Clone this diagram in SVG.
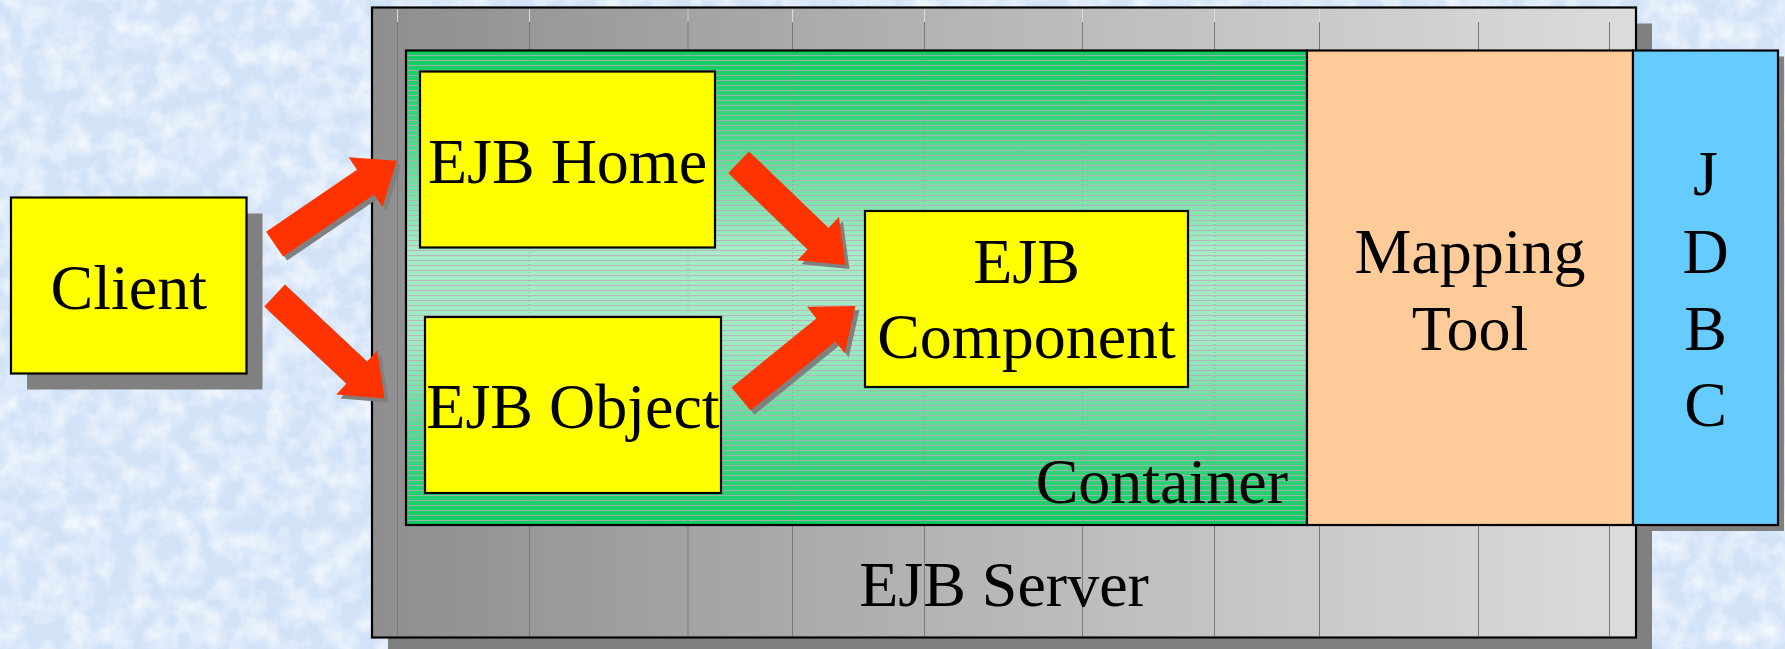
<svg xmlns="http://www.w3.org/2000/svg" width="1785" height="649" viewBox="0 0 1785 649">
  <style>
    .lbl { font-family: 'Liberation Serif', 'Times New Roman', serif; font-size: 64px; fill: #000; text-anchor: middle; }
    .box { stroke: #000; stroke-width: 2.2; }
    .yel { fill: #ffff00; }
    .shadow { fill: #808080; }
    .arrow { fill: #ff3300; }
    .grid { stroke: #7a7a7a; stroke-width: 1; }
    .gridtop { stroke: #f4f4f4; stroke-width: 1; opacity: 0.8; }
    .dots { stroke: #8a8a8a; stroke-width: 1; stroke-dasharray: 1 3; opacity: 0.6; }
  </style>
  <defs>
    <filter id="tex" x="0" y="0" width="100%" height="100%">
      <feTurbulence type="fractalNoise" baseFrequency="0.045" numOctaves="4" seed="7"/>
      <feColorMatrix type="matrix" values="0 0 0 0 1  0 0 0 0 1  0 0 0 0 1  0 0 0 1.4 -0.5"/>
    </filter>
    <linearGradient id="serverGrad" x1="0" y1="0" x2="1" y2="0">
      <stop offset="0" stop-color="#8e8e8e"/>
      <stop offset="0.5" stop-color="#b8b8b8"/>
      <stop offset="1" stop-color="#dcdcdc"/>
    </linearGradient>
    <linearGradient id="contGrad" x1="0" y1="0" x2="0" y2="1">
      <stop offset="0" stop-color="#10cc60"/>
      <stop offset="0.12" stop-color="#30d276"/>
      <stop offset="0.42" stop-color="#a6ecc8"/>
      <stop offset="0.62" stop-color="#a0eac4"/>
      <stop offset="0.88" stop-color="#34d27a"/>
      <stop offset="1" stop-color="#10cc60"/>
    </linearGradient>
    <pattern id="stripes" width="10" height="5" patternUnits="userSpaceOnUse">
      <rect x="0" y="0" width="10" height="1" fill="#bba8bb" opacity="0.8"/>
    </pattern>
  </defs>

  <!-- background -->
  <rect x="0" y="0" width="1785" height="649" fill="#d2e3f8"/>
  <rect x="0" y="0" width="1785" height="649" filter="url(#tex)"/>

  <!-- EJB Server -->
  <g id="ejb-server">
    <rect class="shadow" x="388" y="23.5" width="1264" height="630"/>
    <rect x="372" y="7.5" width="1264" height="630" fill="url(#serverGrad)" class="box" stroke-width="2.5"/>
    <g>
      <line class="grid" x1="397.5" y1="9" x2="397.5" y2="636"/>
      <line class="grid" x1="529.5" y1="9" x2="529.5" y2="636"/>
      <line class="grid" x1="688" y1="9" x2="688" y2="636"/>
      <line class="grid" x1="792.5" y1="9" x2="792.5" y2="636"/>
      <line class="grid" x1="924.5" y1="9" x2="924.5" y2="636"/>
      <line class="grid" x1="1082.5" y1="9" x2="1082.5" y2="636"/>
      <line class="grid" x1="1214.5" y1="9" x2="1214.5" y2="636"/>
      <line class="grid" x1="1319.5" y1="9" x2="1319.5" y2="636"/>
      <line class="grid" x1="1478.5" y1="9" x2="1478.5" y2="636"/>
      <line class="grid" x1="1609.5" y1="9" x2="1609.5" y2="636"/>
      <line class="gridtop" x1="397.5" y1="9" x2="397.5" y2="22"/>
      <line class="gridtop" x1="529.5" y1="9" x2="529.5" y2="22"/>
      <line class="gridtop" x1="688" y1="9" x2="688" y2="22"/>
      <line class="gridtop" x1="792.5" y1="9" x2="792.5" y2="22"/>
      <line class="gridtop" x1="924.5" y1="9" x2="924.5" y2="22"/>
      <line class="gridtop" x1="1082.5" y1="9" x2="1082.5" y2="22"/>
      <line class="gridtop" x1="1214.5" y1="9" x2="1214.5" y2="22"/>
      <line class="gridtop" x1="1319.5" y1="9" x2="1319.5" y2="22"/>
      <line class="gridtop" x1="1478.5" y1="9" x2="1478.5" y2="22"/>
      <line class="gridtop" x1="1609.5" y1="9" x2="1609.5" y2="22"/>
    </g>
    <text class="lbl" x="1004" y="606">EJB Server</text>
  </g>

  <!-- Container -->
  <g id="container">
    <rect x="406" y="50.5" width="901" height="474.5" fill="url(#contGrad)"/>
    <rect x="406" y="50.5" width="901" height="474.5" fill="url(#stripes)"/>
    <line class="dots" x1="529.5" y1="52" x2="529.5" y2="524"/>
    <line class="dots" x1="688" y1="52" x2="688" y2="524"/>
    <line class="dots" x1="792.5" y1="52" x2="792.5" y2="524"/>
    <line class="dots" x1="924.5" y1="52" x2="924.5" y2="524"/>
    <line class="dots" x1="1082.5" y1="52" x2="1082.5" y2="524"/>
    <line class="dots" x1="1214.5" y1="52" x2="1214.5" y2="524"/>
    <rect x="406" y="50.5" width="901" height="474.5" fill="none" class="box"/>
    <text class="lbl" x="1288" y="503" style="text-anchor:end">Container</text>
  </g>

  <!-- Mapping Tool -->
  <g id="mapping-tool">
    <rect x="1307" y="50.5" width="326" height="474.5" fill="#ffcc99" class="box"/>
    <text class="lbl" x="1470" y="273">Mapping</text>
    <text class="lbl" x="1470" y="350">Tool</text>
  </g>

  <!-- JDBC -->
  <g id="jdbc">
    <rect class="shadow" x="1639" y="56.5" width="145" height="474.5"/>
    <rect x="1633" y="50.5" width="145" height="474.5" fill="#66ccff" class="box"/>
    <text class="lbl" x="1705.5" y="194.5">J</text>
    <text class="lbl" x="1705.5" y="273">D</text>
    <text class="lbl" x="1705.5" y="350">B</text>
    <text class="lbl" x="1705.5" y="426">C</text>
  </g>

  <!-- Client -->
  <g id="client">
    <rect class="shadow" x="27" y="213.5" width="235.5" height="176"/>
    <rect class="yel box" x="11" y="197.5" width="235.5" height="176"/>
    <text class="lbl" x="128.75" y="309">Client</text>
  </g>

  <!-- EJB Home -->
  <g id="ejb-home">
    <rect class="yel box" x="420" y="71.5" width="295" height="176"/>
    <text class="lbl" x="567.5" y="183">EJB Home</text>
  </g>

  <!-- EJB Object -->
  <g id="ejb-object">
    <rect class="yel box" x="425" y="317" width="296" height="176"/>
    <text class="lbl" x="573" y="428">EJB Object</text>
  </g>

  <!-- EJB Component -->
  <g id="ejb-component">
    <rect class="yel box" x="865" y="211" width="323" height="176"/>
    <text class="lbl" x="1026.5" y="283">EJB</text>
    <text class="lbl" x="1026.5" y="358">Component</text>
  </g>

  <!-- Connectors -->
  <g id="connectors">
    <g transform="translate(4,4)">
      <polygon class="shadow" points="283.1,256.6 374.0,194.5 382.4,206.9 396.9,160.7 348.6,157.3 357.0,169.7 266.1,231.8"/>
      <polygon class="shadow" points="284.9,284.6 367.1,361.6 377.3,350.6 384.5,398.5 336.3,394.4 346.5,383.5 264.3,306.5"/>
      <polygon class="shadow" points="749.0,151.4 828.5,227.9 838.9,217.1 845.5,265 797.3,260.3 807.7,249.5 728.2,173.0"/>
      <polygon class="shadow" points="750.5,410.6 835.4,341.6 844.8,353.3 855.4,306 807.0,306.7 816.4,318.4 731.5,387.4"/>
    </g>
    <polygon class="arrow" points="283.1,256.6 374.0,194.5 382.4,206.9 396.9,160.7 348.6,157.3 357.0,169.7 266.1,231.8"/>
    <polygon class="arrow" points="284.9,284.6 367.1,361.6 377.3,350.6 384.5,398.5 336.3,394.4 346.5,383.5 264.3,306.5"/>
    <polygon class="arrow" points="749.0,151.4 828.5,227.9 838.9,217.1 845.5,265 797.3,260.3 807.7,249.5 728.2,173.0"/>
    <polygon class="arrow" points="750.5,410.6 835.4,341.6 844.8,353.3 855.4,306 807.0,306.7 816.4,318.4 731.5,387.4"/>
  </g>
</svg>
